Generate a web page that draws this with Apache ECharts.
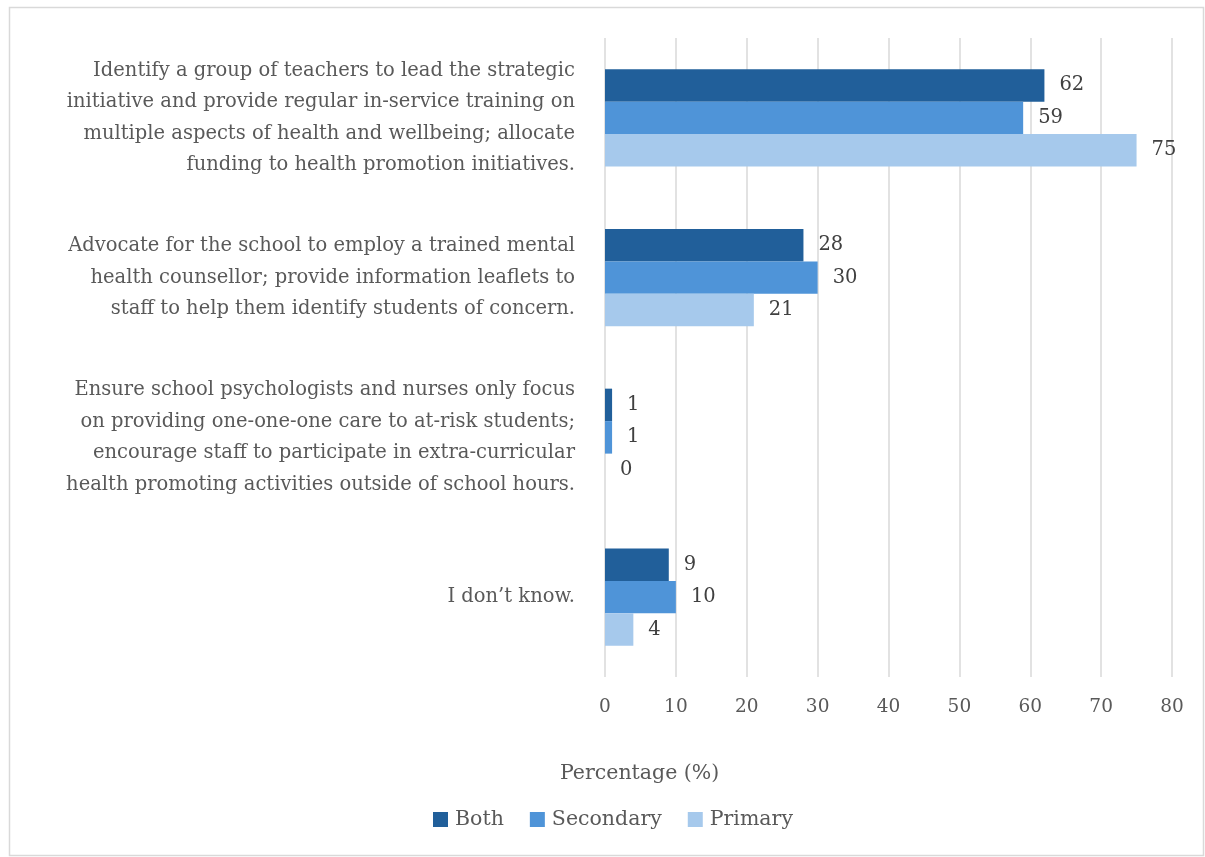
<!DOCTYPE html>
<html>
<head>
<meta charset="utf-8">
<script src="https://cdn.jsdelivr.net/npm/echarts@6/dist/echarts.min.js"></script>
<style>
  html, body { margin: 0; padding: 0; background: #fff; }
  #chart { width: 1205px; height: 857px; }
</style>
</head>
<body>
<div id="chart"></div>
<script>
// Response options, top to bottom
const categories = [
  'Identify a group of teachers to lead the strategic\ninitiative and provide regular in-service training on\nmultiple aspects of health and wellbeing; allocate\nfunding to health promotion initiatives.',
  'Advocate for the school to employ a trained mental\nhealth counsellor; provide information leaflets to\nstaff to help them identify students of concern.',
  'Ensure school psychologists and nurses only focus\non providing one-one-one care to at-risk students;\nencourage staff to participate in extra-curricular\nhealth promoting activities outside of school hours.',
  'I don\u2019t know.'
];

// Percentage of respondents per school type
const bothValues = [62, 28, 1, 9];
const secondaryValues = [59, 30, 1, 10];
const primaryValues = [75, 21, 0, 4];

const seriesNames = ['Both', 'Secondary', 'Primary'];
const seriesColors = ['#215F9A', '#4F94D8', '#A6C9EC'];

const FONT = '"DejaVu Serif", "Liberation Serif", serif';
const TEXT = '#595959';

const chart = echarts.init(document.getElementById('chart'), null, { renderer: 'canvas' });

function barSeries(name, data, color) {
  return {
    name: name,
    type: 'bar',
    data: data,
    barGap: '0%',
    barCategoryGap: '39%',
    itemStyle: { color: color },
    label: {
      show: true,
      position: 'right',
      distance: 15,
      color: '#404040',
      fontFamily: FONT,
      fontSize: 19.5
    }
  };
}

chart.setOption({
  animation: false,
  backgroundColor: '#fff',
  textStyle: { fontFamily: FONT },
  graphic: [
    {
      type: 'rect',
      shape: { x: 9.5, y: 7.5, width: 1194, height: 848 },
      style: { fill: 'none', stroke: '#D9D9D9', lineWidth: 1.5 },
      silent: true
    },
    {
      type: 'text',
      left: 560,
      top: 763,
      style: {
        text: 'Percentage (%)',
        fill: TEXT,
        font: '20.5px ' + FONT
      }
    }
  ],
  legend: {
    bottom: 22,
    left: 428,
    itemWidth: 15,
    itemHeight: 15,
    itemGap: 26,
    icon: 'rect',
    textStyle: { color: TEXT, fontFamily: FONT, fontSize: 20.5, padding: [0, 0, 0, 2] },
    data: seriesNames
  },
  grid: {
    left: 605,
    right: 33,
    top: 38,
    bottom: 180
  },
  xAxis: {
    type: 'value',
    min: 0,
    max: 80,
    interval: 10,
    axisLine: { show: false },
    axisTick: { show: false },
    splitLine: { show: true, lineStyle: { color: '#D9D9D9', width: 1.5 } },
    axisLabel: {
      margin: 21,
      color: TEXT,
      fontFamily: FONT,
      fontSize: 18.5
    }
  },
  yAxis: {
    type: 'category',
    inverse: true,
    data: categories,
    axisLine: { show: false },
    axisTick: { show: false },
    axisLabel: {
      margin: 30,
      color: TEXT,
      fontFamily: FONT,
      fontSize: 19.5,
      lineHeight: 31.5,
      align: 'right'
    }
  },
  series: [
    barSeries(seriesNames[0], bothValues, seriesColors[0]),
    barSeries(seriesNames[1], secondaryValues, seriesColors[1]),
    barSeries(seriesNames[2], primaryValues, seriesColors[2])
  ]
});
</script>
</body>
</html>
